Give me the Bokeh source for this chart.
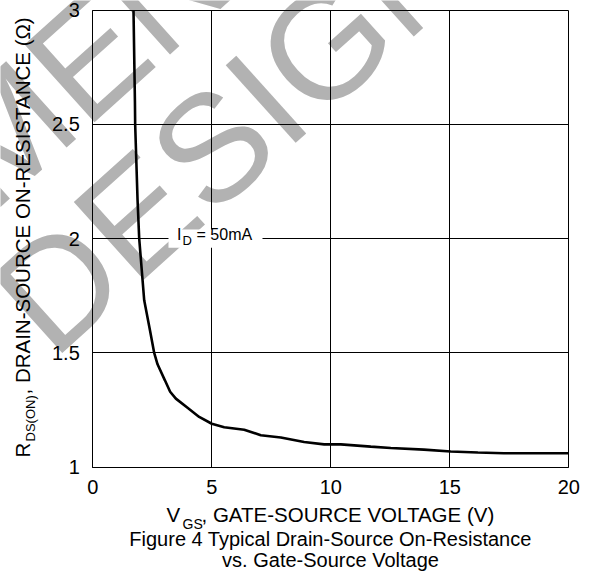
import math
from bokeh.plotting import figure
from bokeh.models import Label, BoxAnnotation, FixedTicker, Range1d, LinearAxis
from bokeh.embed import file_html
from bokeh.resources import INLINE

# ---- data ----
vgs = [1.71, 1.77, 1.78, 1.88, 1.95, 2.16, 2.40, 2.58, 2.72, 3.03, 3.25, 3.49,
       3.98, 4.47, 5.00, 5.52, 6.36, 7.06, 7.90, 8.88, 9.72, 10.42, 11.68,
       12.52, 13.91, 15.04, 16.18, 17.27, 20.0]
rds = [3.00, 2.60, 2.50, 2.17, 2.00, 1.73, 1.60, 1.50, 1.45, 1.38, 1.33, 1.30,
       1.26, 1.22, 1.19, 1.175, 1.164, 1.14, 1.13, 1.11, 1.10, 1.10, 1.09,
       1.084, 1.077, 1.069, 1.064, 1.061, 1.061]

x_ticks = [0, 5, 10, 15, 20]
x_tick_labels = ["0", "5", "10", "15", "20"]
y_ticks = [1.0, 1.5, 2.0, 2.5, 3.0]
y_tick_labels = ["1", "1.5", "2", "2.5", "3"]

FONT = "Liberation Sans"
W, H = 593, 571

# plot box inside the canvas (pixels): left, right, top, bottom
BL, BR, BT, BB = 92.3, 568.3, 9.5, 466.7
xs = (BR - BL) / (x_ticks[-1] - x_ticks[0])
ys = (BB - BT) / (y_ticks[-1] - y_ticks[0])
x_range = Range1d(x_ticks[0] - BL / xs, x_ticks[-1] + (W - BR) / xs)
y_range = Range1d(y_ticks[0] - (H - BB) / ys, y_ticks[-1] + BT / ys)

p = figure(width=W, height=H, x_range=x_range, y_range=y_range,
           output_backend="svg", toolbar_location=None,
           x_axis_location=None, y_axis_location=None,
           min_border=0, min_border_left=0, min_border_right=0,
           min_border_top=0, min_border_bottom=0)
p.background_fill_color = "white"
p.border_fill_color = "white"
p.outline_line_color = None
p.grid.visible = False

# watermark (drawn underneath everything else)
wm_kw = dict(x_units="screen", y_units="screen", angle=math.radians(42),
             text_font=FONT, text_font_size="152px", text_color="#b2b2b2",
             text_align="left", text_baseline="alphabetic", level="image")
p.add_layout(Label(x=-733, y=-224, text="NOT RECOMMENDED", **wm_kw))
p.add_layout(Label(x=-278, y=-16, text="NEW DESIGN", **wm_kw))

# axes fixed at the plot box; long inward ticks form the grid and the box
xaxis = LinearAxis(ticker=FixedTicker(ticks=x_ticks), fixed_location=y_ticks[0],
                   bounds=(x_ticks[0], x_ticks[-1]))
yaxis = LinearAxis(ticker=FixedTicker(ticks=y_ticks), fixed_location=x_ticks[0],
                   bounds=(y_ticks[0], y_ticks[-1]))
xaxis.major_label_overrides = {float(t): s for t, s in zip(x_ticks, x_tick_labels)}
yaxis.major_label_overrides = {float(t): s for t, s in zip(y_ticks, y_tick_labels)}
xaxis.major_tick_in = int(round(BB - BT))
yaxis.major_tick_in = int(round(BR - BL))
for ax in (xaxis, yaxis):
    ax.axis_line_color = "black"
    ax.axis_line_width = 1
    ax.major_tick_line_color = "black"
    ax.major_tick_line_width = 1
    ax.major_tick_out = 0
    ax.minor_tick_line_color = None
    ax.major_label_text_font = FONT
    ax.major_label_text_font_size = "20px"
    ax.major_label_text_color = "black"
xaxis.major_label_standoff = 13
yaxis.major_label_standoff = 13
p.add_layout(xaxis, "below")
p.add_layout(yaxis, "left")

# curve
p.line(vgs, rds, line_color="black", line_width=2.6)

# I_D = 50mA annotation
p.add_layout(BoxAnnotation(left=3.18, right=7.13, bottom=1.96, top=2.04,
                           fill_color="white", fill_alpha=1.0, line_color=None,
                           level="overlay"))
lab = dict(y_units="screen", text_font=FONT, text_color="black",
           text_align="left", text_baseline="alphabetic", level="overlay")
p.add_layout(Label(x=3.54, y=337, text="I", text_font_size="16px", **lab))
p.add_layout(Label(x=3.77, y=331.5, text="D", text_font_size="13px", **lab))
p.add_layout(Label(x=4.36, y=337, text="= 50mA", text_font_size="16px", **lab))

# axis titles (with subscripts) and caption, in canvas pixels (y up)
sc = dict(x_units="screen", y_units="screen", text_font=FONT, text_color="black",
          text_align="left", text_baseline="alphabetic")
p.add_layout(Label(x=166, y=57.5, text="V", text_font_size="20.5px", **sc))
p.add_layout(Label(x=182, y=48, text="GS", text_font_size="14px", **sc))
p.add_layout(Label(x=201, y=57.5, text=", GATE-SOURCE VOLTAGE (V)",
                   text_font_size="20.5px", **sc))
p.add_layout(Label(x=21.5, y=114, text="R", angle=math.pi / 2,
                   text_font_size="20.5px", **sc))
p.add_layout(Label(x=29.5, y=130, text="DS(ON)", angle=math.pi / 2,
                   text_font_size="13px", **sc))
p.add_layout(Label(x=21.5, y=177, text=", DRAIN-SOURCE ON-RESISTANCE (\u03a9)",
                   angle=math.pi / 2, text_font_size="20.5px", **sc))
cap = dict(sc)
cap["text_align"] = "center"
p.add_layout(Label(x=330, y=32.5, text="Figure 4 Typical Drain-Source On-Resistance",
                   text_font_size="20px", **cap))
p.add_layout(Label(x=330, y=11.5, text="vs. Gate-Source Voltage",
                   text_font_size="20px", **cap))

open("out.html", "w").write(file_html(p, INLINE))
